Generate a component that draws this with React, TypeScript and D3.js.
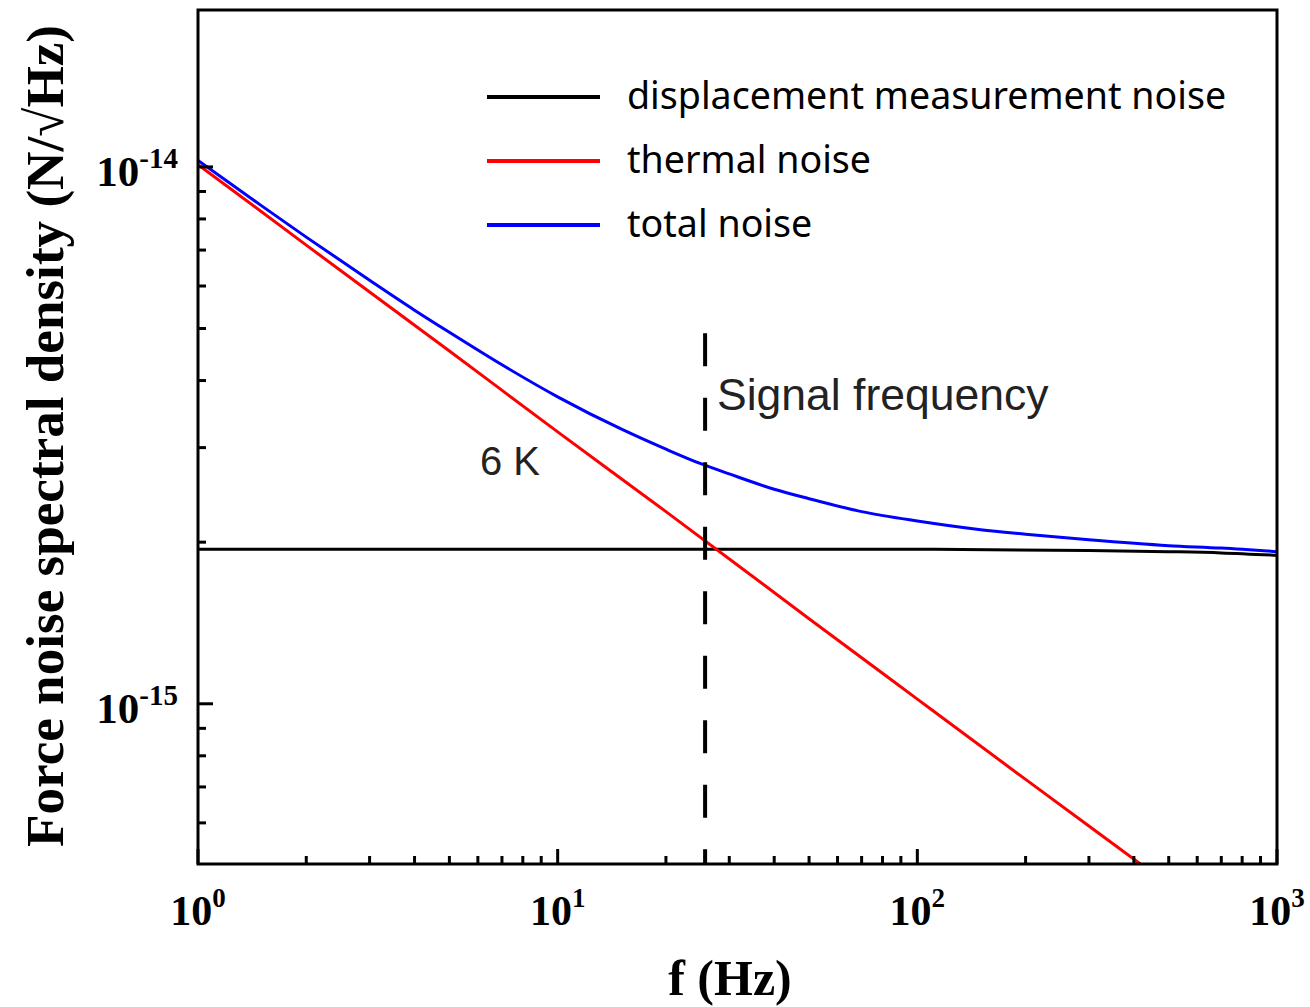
import * as d3 from "d3";

// frequency grid (Hz) and curves, in N/sqrt(Hz)
const freqs = [1, 1.5, 2, 3, 4, 5, 7, 10, 15, 20, 25, 30, 40, 50, 70, 100, 150, 200, 300, 500, 700, 1000];
const totalNoise = [10.28e-15, 8.47e-15, 7.4e-15, 6.15e-15, 5.41e-15, 4.92e-15, 4.28e-15, 3.73e-15, 3.25e-15, 2.98e-15, 2.8e-15, 2.68e-15, 2.51e-15, 2.41e-15, 2.28e-15, 2.19e-15, 2.11e-15, 2.07e-15, 2.02e-15, 1.97e-15, 1.95e-15, 1.92e-15];

const thermalFreqs = [1, 2, 5, 10, 20, 50, 100, 200, 500, 1000];
const thermalNoise = [10.1e-15, 7.15e-15, 4.54e-15, 3.21e-15, 2.28e-15, 1.44e-15, 1.02e-15, 0.723e-15, 0.46e-15, 0.326e-15];

const dispFreqs = [1, 10, 100, 300, 500, 700, 1000];
const dispNoise = [1.94e-15, 1.94e-15, 1.94e-15, 1.93e-15, 1.92e-15, 1.91e-15, 1.89e-15];

const signalFreq = 25.7;
const signalTop = 4.9e-15;

const xDomain = [1, 1000];
const yDomain = [5.03e-16, 1.96e-14];
const xMajor = [0, 1, 2, 3];
const yMajor = [-15, -14];

const legendItems = [
  { label: "displacement measurement noise", color: "#000000" },
  { label: "thermal noise", color: "#ff0000" },
  { label: "total noise", color: "#0000ff" },
];

const serif = "'Liberation Serif', 'Times New Roman', serif";
const sans = "'Liberation Sans', Arial, sans-serif";

export default function App() {
  const width = 1310;
  const height = 1007;
  const margin = { top: 10, right: 33, bottom: 143, left: 198 };
  const innerW = width - margin.left - margin.right;
  const innerH = height - margin.top - margin.bottom;

  const x = d3.scaleLog().domain(xDomain).range([0, innerW]);
  const y = d3.scaleLog().domain(yDomain).range([innerH, 0]);

  const line = d3
    .line<[number, number]>()
    .x((d) => x(d[0]))
    .y((d) => y(d[1]))
    .curve(d3.curveMonotoneX);

  const series = [
    { f: dispFreqs, v: dispNoise, color: "#000000" },
    { f: thermalFreqs, v: thermalNoise, color: "#ff0000" },
    { f: freqs, v: totalNoise, color: "#0000ff" },
  ];

  const xTicks = x.ticks();
  const yTicks = y.ticks().filter((t) => t >= yDomain[0] && t <= yDomain[1]);
  const isMajor = (t: number) => Math.abs(Math.log10(t) - Math.round(Math.log10(t))) < 1e-6;

  return (
    <svg
      width={width}
      height={height}
      style={{ position: "absolute", left: 0, top: 0, display: "block", background: "#fff" }}
    >
      <defs>
        <clipPath id="plot-clip">
          <rect x={0} y={0} width={innerW} height={innerH} />
        </clipPath>
      </defs>
      <g transform={`translate(${margin.left},${margin.top})`}>
        <g clipPath="url(#plot-clip)">
          {series.map((s, i) => (
            <path
              key={i}
              d={line(s.f.map((f, j) => [f, s.v[j]] as [number, number])) || ""}
              fill="none"
              stroke={s.color}
              strokeWidth={3}
            />
          ))}
          <line
            x1={x(signalFreq)}
            x2={x(signalFreq)}
            y1={y(signalTop)}
            y2={innerH}
            stroke="#000"
            strokeWidth={4}
            strokeDasharray="33 31.5"
          />
        </g>

        {/* ticks, inside */}
        {xTicks.map((t, i) => (
          <line key={"xt" + i} x1={x(t)} x2={x(t)} y1={innerH} y2={innerH - (isMajor(t) ? 15 : 8)} stroke="#000" strokeWidth={3} />
        ))}
        {yTicks.map((t, i) => (
          <line key={"yt" + i} x1={0} x2={isMajor(t) ? 15 : 8} y1={y(t)} y2={y(t)} stroke="#000" strokeWidth={3} />
        ))}

        <rect x={0} y={0} width={innerW} height={innerH} fill="none" stroke="#000" strokeWidth={3} />

        {/* tick labels */}
        {xMajor.map((p) => (
          <text
            key={"xl" + p}
            x={x(Math.pow(10, p))}
            y={innerH + 61}
            textAnchor="middle"
            fontFamily={serif}
            fontWeight="bold"
            fontSize={42}
            fill="#000"
          >
            10
            <tspan dy={-18} fontSize={27}>{p}</tspan>
          </text>
        ))}
        {yMajor.map((p) => (
          <text
            key={"yl" + p}
            x={-20}
            y={y(Math.pow(10, p)) + 19}
            textAnchor="end"
            fontFamily={serif}
            fontWeight="bold"
            fontSize={43}
            fill="#000"
          >
            10
            <tspan dy={-18} fontSize={29}>{p}</tspan>
          </text>
        ))}

        {/* legend */}
        {legendItems.map((d, i) => (
          <g key={"lg" + i} transform={`translate(${487 - margin.left},${87 + i * 64})`}>
            <line x1={0} x2={113} y1={0} y2={0} stroke={d.color} strokeWidth={4} />
            <text x={140} y={12} fontFamily="'Noto Sans', sans-serif" fontSize={37.6} fill="#000">
              {d.label}
            </text>
          </g>
        ))}

        <text x={717 - margin.left} y={410 - margin.top} fontFamily={sans} fontSize={44.5} fill="#222">
          Signal frequency
        </text>
        <text x={480 - margin.left} y={475 - margin.top} fontFamily={sans} fontSize={40} fill="#222">
          6 K
        </text>
      </g>

      {/* axis titles */}
      <text
        x={730}
        y={995}
        textAnchor="middle"
        fontFamily={serif}
        fontWeight="bold"
        fontSize={50}
        fill="#000"
      >
        f (Hz)
      </text>
      <text
        transform="translate(63,436) rotate(-90)"
        textAnchor="middle"
        fontFamily={serif}
        fontWeight="bold"
        fontSize={53}
        textLength={822}
        lengthAdjust="spacingAndGlyphs"
        fill="#000"
      >
        Force noise spectral density (N/√Hz)
      </text>
    </svg>
  );
}
